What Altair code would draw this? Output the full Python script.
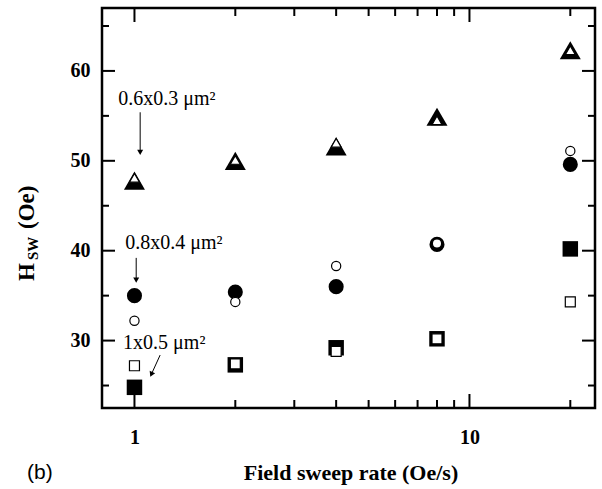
import altair as alt
import pandas as pd

# Sweep rates (Oe/s) and switching fields (Oe) for the three element sizes
rates = [1, 2, 4, 8, 20]
tri_filled = [47.8, 50.0, 51.6, 54.9, 62.3]
tri_open = [48.1, 50.1, 52.0, 54.5, 62.3]
circ_filled = [35.0, 35.4, 36.0, 40.7, 49.6]
circ_open = [32.2, 34.3, 38.3, 40.8, 51.1]
sq_filled = [24.8, 27.3, 29.2, 30.2, 40.2]
sq_open = [27.2, 27.4, 28.8, 30.2, 34.3]

# Tick positions
x_major = [1, 10]
x_minor = [2, 3, 4, 5, 6, 7, 8, 9, 20]
y_major = [30, 40, 50, 60]
y_minor = [25, 35, 45, 55, 65]

# Size annotations and their arrows (data coordinates)
labels = ["0.6x0.3 \u03bcm\u00b2", "0.8x0.4 \u03bcm\u00b2", "1x0.5 \u03bcm\u00b2"]
label_x = [0.894, 0.938, 0.925]
label_y = [56.2, 40.15, 29.05]
arrow_x1 = [1.04, 1.012, 1.193]
arrow_y1 = [55.4, 39.2, 28.39]
arrow_x2 = [1.04, 1.012, 1.123]
arrow_y2 = [50.94, 36.72, 26.24]
arrow_angle = [0, 0, 24]

W, H = 493, 400
SERIF = "Liberation Serif"

xs = alt.Scale(type="log", domain=[0.8, 23.7], nice=False)
ys = alt.Scale(domain=[22.5, 67], nice=False, zero=False)


def X(field="rate:Q", **kw):
    return alt.X(field, scale=xs, title=None, **kw)


def Y(field="hsw:Q", **kw):
    return alt.Y(field, scale=ys, title=None, **kw)


base = alt.Chart(pd.DataFrame({"rate": [1.0], "hsw": [40.0]})).mark_point(opacity=0).encode(
    x=X(axis=alt.Axis(values=x_major, format="d", labelPadding=19, labelFlush=False)),
    y=Y(axis=alt.Axis(values=y_major, format="d", labelPadding=12)),
)

layers = [base]


# Inward ticks on all four sides
def xticks(vals, length):
    df = pd.DataFrame({"rate": vals})
    bottom = alt.Chart(df).mark_rule(color="black", strokeWidth=2).encode(
        x=X(), y=alt.value(H), y2=alt.value(H - length))
    top = alt.Chart(df).mark_rule(color="black", strokeWidth=2).encode(
        x=X(), y=alt.value(0), y2=alt.value(length))
    return [bottom, top]


def yticks(vals, length):
    df = pd.DataFrame({"hsw": vals})
    left = alt.Chart(df).mark_rule(color="black", strokeWidth=2).encode(
        y=Y(), x=alt.value(0), x2=alt.value(length))
    right = alt.Chart(df).mark_rule(color="black", strokeWidth=2).encode(
        y=Y(), x=alt.value(W), x2=alt.value(W - length))
    return [left, right]


layers += xticks(x_major, 14) + xticks(x_minor, 8)
layers += yticks(y_major, 13) + yticks(y_minor, 7)


def points(values, shape, size, filled):
    df = pd.DataFrame({"rate": rates, "hsw": values})
    if filled:
        mark = alt.Chart(df).mark_point(shape=shape, size=size, filled=True, fill="black",
                                        strokeWidth=0, opacity=1, fillOpacity=1)
    else:
        mark = alt.Chart(df).mark_point(shape=shape, size=size, filled=True, fill="white",
                                        stroke="black", strokeWidth=1.2, opacity=1,
                                        fillOpacity=1, strokeOpacity=1)
    return mark.encode(x=X(), y=Y())


layers += [
    points(tri_filled, "triangle-up", 441, True),
    points(circ_filled, "circle", 227, True),
    points(sq_filled, "square", 240, True),
    points(tri_open, "triangle-up", 100, False),
    points(circ_open, "circle", 85, False),
    points(sq_open, "square", 100, False),
]

ann = pd.DataFrame({"rate": label_x, "hsw": label_y, "label": labels})
layers.append(alt.Chart(ann).mark_text(align="left", baseline="alphabetic", font=SERIF,
                                       fontSize=20, color="black").encode(
    x=X(), y=Y(), text="label:N"))

arr = pd.DataFrame({"rate": arrow_x1, "hsw": arrow_y1, "rate2": arrow_x2,
                    "hsw2": arrow_y2, "ang": arrow_angle})
layers.append(alt.Chart(arr).mark_rule(color="black", strokeWidth=1).encode(
    x=X(), y=Y(), x2="rate2:Q", y2="hsw2:Q"))
layers.append(alt.Chart(arr).mark_point(shape="triangle-down", size=36, filled=True,
                                        fill="black", strokeWidth=0, opacity=1).encode(
    x=X("rate2:Q"), y=Y("hsw2:Q"),
    angle=alt.Angle("ang:Q", scale=None)))

# Axis titles and panel tag
txt = pd.DataFrame({"t": [0]})


def label(text, x, y, size, weight="bold", angle=0, font=SERIF, align="left"):
    return alt.Chart(txt).mark_text(text=text, font=font, fontSize=size, fontWeight=weight,
                                    angle=angle, align=align, baseline="alphabetic",
                                    color="black").encode(x=alt.value(x), y=alt.value(y))


layers += [
    label("Field sweep rate (Oe/s)", 249, 472, 22, align="center"),
    label("H", -68, 273, 23, angle=270),
    label("SW", -64, 252, 15, angle=270),
    label("(Oe)", -68, 221, 23, angle=270),
    label("(b)", -75, 471, 21, weight="normal", font="Liberation Sans"),
]

chart = alt.layer(*layers).properties(
    width=W, height=H,
    padding={"left": 102, "top": 8, "right": 7, "bottom": 81},
    autosize=alt.AutoSizeParams(type="none"),
    background="white",
).configure_view(
    stroke="black", strokeWidth=2.5
).configure_axis(
    ticks=False, tickSize=0, domain=False, grid=False, title=None,
    labelFont=SERIF, labelFontWeight="bold", labelFontSize=20, labelColor="black",
)

chart.save("out.html", embed_options={"renderer": "svg", "actions": False})
